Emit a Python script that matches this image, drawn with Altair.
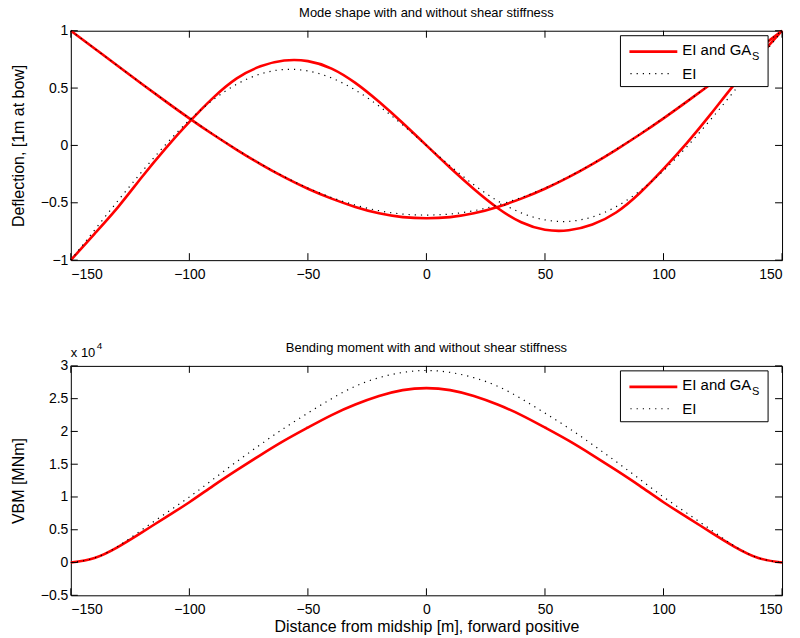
import altair as alt
import pandas as pd

# ---------------- data ----------------
x_m = [-150, -140, -130, -120, -110, -100, -90, -80, -70, -60, -50, -40, -30, -20, -10,
       0, 10, 20, 30, 40, 50, 60, 70, 80, 90, 100, 110, 120, 130, 140, 150]

# 2-node mode, with shear stiffness (red) and bending only (dotted)
mode1_shear = [1.000, 0.845, 0.690, 0.536, 0.384, 0.236, 0.095, -0.038, -0.163, -0.277, -0.378,
               -0.464, -0.536, -0.592, -0.625, -0.635, -0.625, -0.592, -0.536, -0.464, -0.378,
               -0.277, -0.163, -0.038, 0.095, 0.236, 0.384, 0.536, 0.690, 0.845, 1.000]
mode1_ei = [1.000, 0.845, 0.691, 0.537, 0.386, 0.239, 0.098, -0.035, -0.160, -0.272, -0.371,
            -0.454, -0.520, -0.569, -0.598, -0.607, -0.598, -0.569, -0.520, -0.454, -0.371,
            -0.272, -0.160, -0.035, 0.098, 0.239, 0.386, 0.537, 0.691, 0.845, 1.000]
# 3-node mode
mode2_shear = [-1.000, -0.770, -0.535, -0.275, -0.025, 0.205, 0.415, 0.585, 0.690, 0.740, 0.735,
               0.670, 0.545, 0.380, 0.195, 0.000, -0.195, -0.380, -0.545, -0.670, -0.735,
               -0.740, -0.690, -0.585, -0.415, -0.205, 0.025, 0.275, 0.535, 0.770, 1.000]
mode2_ei = [-1.000, -0.738, -0.479, -0.228, 0.008, 0.220, 0.397, 0.534, 0.623, 0.662, 0.649,
            0.588, 0.483, 0.343, 0.178, 0.000, -0.178, -0.343, -0.483, -0.588, -0.649,
            -0.662, -0.623, -0.534, -0.397, -0.220, -0.008, 0.228, 0.479, 0.738, 1.000]

# vertical bending moment, in units of 10^4 MNm
vbm_shear = [0.00, 0.07, 0.24, 0.46, 0.69, 0.92, 1.17, 1.41, 1.64, 1.86, 2.06, 2.25, 2.41, 2.54,
             2.63, 2.66, 2.63, 2.54, 2.41, 2.25, 2.06, 1.86, 1.64, 1.41, 1.17, 0.92, 0.69, 0.46,
             0.24, 0.07, 0.00]
vbm_ei = [0.00, 0.07, 0.25, 0.50, 0.75, 1.00, 1.27, 1.54, 1.80, 2.05, 2.28, 2.50, 2.69, 2.82,
          2.90, 2.93, 2.90, 2.82, 2.69, 2.50, 2.28, 2.05, 1.80, 1.54, 1.27, 1.00, 0.75, 0.50,
          0.25, 0.07, 0.00]

x_ticks = [-150, -100, -50, 0, 50, 100, 150]
defl_ticks = [-1, -0.5, 0, 0.5, 1]
vbm_ticks = [-0.5, 0, 0.5, 1, 1.5, 2, 2.5, 3]

legend_main = "EI and GA"
legend_sub = "S"
legend_dot = "EI"
title_top = "Mode shape with and without shear stiffness"
title_bot = "Bending moment with and without shear stiffness"

# ---------------- layout / style ----------------
FONT = "Liberation Sans"
W, H = 713, 230
RED = "#ff0000"
TICK = 7

xscale = alt.Scale(domain=[-150, 150], nice=False, zero=False)

top_red = pd.DataFrame({"x": x_m * 2, "v": mode1_shear + mode2_shear,
                        "curve": ["m1"] * len(x_m) + ["m2"] * len(x_m)})
top_dot = pd.DataFrame({"x": x_m * 2, "v": mode1_ei + mode2_ei,
                        "curve": ["m1"] * len(x_m) + ["m2"] * len(x_m)})
bot_red = pd.DataFrame({"x": x_m, "v": vbm_shear, "curve": ["vbm"] * len(x_m)})
bot_dot = pd.DataFrame({"x": x_m, "v": vbm_ei, "curve": ["vbm"] * len(x_m)})
one = pd.DataFrame({"k": [0]})


def panel(red_df, dot_df, ydomain, yticks, ytitle, xtitle, title):
    yscale = alt.Scale(domain=ydomain, nice=False, zero=False)
    xaxis = alt.Axis(values=x_ticks, ticks=False, domain=False, grid=False, labelFontSize=14,
                     labelColor="black", labelFont=FONT, labelPadding=7, format=".6~g",
                     titleFontSize=16, titleFont=FONT, titleFontWeight="normal",
                     titleColor="black", titlePadding=2)
    yaxis = alt.Axis(values=yticks, ticks=False, domain=False, grid=False, labelFontSize=14,
                     labelColor="black", labelFont=FONT, labelPadding=3, format=".6~g",
                     titleFontSize=16, titleFont=FONT, titleFontWeight="normal",
                     titleColor="black", titlePadding=14)
    X = alt.X("x:Q", scale=xscale, axis=xaxis, title=xtitle)
    Y = alt.Y("v:Q", scale=yscale, axis=yaxis, title=ytitle)

    red = alt.Chart(red_df).mark_line(color=RED, strokeWidth=2.6, interpolate="natural").encode(
        x=X, y=Y, detail="curve:N")
    dot = alt.Chart(dot_df).mark_line(color="black", strokeWidth=1.2, strokeDash=[1.2, 5],
                                      interpolate="natural").encode(x=X, y=Y, detail="curve:N")

    xt = pd.DataFrame({"x": x_ticks})
    yt = pd.DataFrame({"v": yticks})
    tick_style = dict(color="black", strokeWidth=1)
    xt_bot = alt.Chart(xt).mark_rule(**tick_style).encode(
        x=X, y=alt.value(H), y2=alt.value(H - TICK))
    xt_top = alt.Chart(xt).mark_rule(**tick_style).encode(
        x=X, y=alt.value(0), y2=alt.value(TICK))
    yt_left = alt.Chart(yt).mark_rule(**tick_style).encode(
        y=Y, x=alt.value(0), x2=alt.value(TICK))
    yt_right = alt.Chart(yt).mark_rule(**tick_style).encode(
        y=Y, x=alt.value(W - TICK), x2=alt.value(W))

    # legend box
    box = alt.Chart(one).mark_rect(fill="white", stroke="black", strokeWidth=1).encode(
        x=alt.value(551), x2=alt.value(699), y=alt.value(5), y2=alt.value(56))
    leg_red = alt.Chart(one).mark_rule(color=RED, strokeWidth=2.6).encode(
        x=alt.value(560), x2=alt.value(608), y=alt.value(21))
    leg_dot = alt.Chart(one).mark_rule(color="black", strokeWidth=1.2, strokeDash=[1.2, 5]).encode(
        x=alt.value(561), x2=alt.value(601), y=alt.value(43))
    txt = dict(font=FONT, color="black", align="left", baseline="middle")
    leg_t1 = alt.Chart(one).mark_text(fontSize=15, **txt).encode(
        x=alt.value(613), y=alt.value(19), text=alt.value(legend_main))
    leg_t1s = alt.Chart(one).mark_text(fontSize=11, **txt).encode(
        x=alt.value(683), y=alt.value(26), text=alt.value(legend_sub))
    leg_t2 = alt.Chart(one).mark_text(fontSize=15, **txt).encode(
        x=alt.value(613), y=alt.value(43), text=alt.value(legend_dot))
    ttl = alt.Chart(one).mark_text(font=FONT, fontSize=13, color="black", align="center",
                                   baseline="middle").encode(
        x=alt.value(W / 2), y=alt.value(-18), text=alt.value(title))

    return [red, dot, xt_bot, xt_top, yt_left, yt_right, box, leg_red, leg_dot,
            leg_t1, leg_t1s, leg_t2, ttl]


top_layers = panel(top_red, top_dot, [-1, 1], defl_ticks, "Deflection, [1m at bow]", None,
                   title_top)
bot_layers = panel(bot_red, bot_dot, [-0.5, 3], vbm_ticks, "VBM [MNm]",
                   "Distance from midship [m], forward positive", title_bot)

# exponent label of the VBM axis
exp_base = alt.Chart(one).mark_text(font=FONT, fontSize=13, color="black", align="left",
                                    baseline="middle").encode(
    x=alt.value(0), y=alt.value(-13), text=alt.value("x 10"))
exp_pow = alt.Chart(one).mark_text(font=FONT, fontSize=10, color="black", align="left",
                                   baseline="middle").encode(
    x=alt.value(26), y=alt.value(-20), text=alt.value("4"))
bot_layers = bot_layers + [exp_base, exp_pow]

top = alt.layer(*top_layers).properties(width=W, height=H)
bot = alt.layer(*bot_layers).properties(width=W, height=H)

chart = alt.vconcat(top, bot, spacing=58).properties(
    padding={"left": 9, "top": 5, "right": 12, "bottom": 2},
    background="white",
).configure_view(stroke="black", strokeWidth=1)

chart.save("out.html", embed_options={"renderer": "svg", "actions": False})
